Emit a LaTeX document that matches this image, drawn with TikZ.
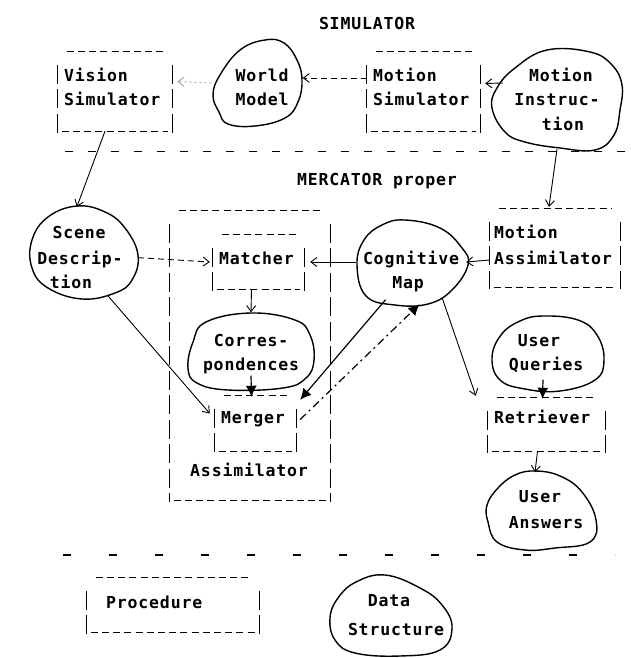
\documentclass[tikz,border=0pt]{standalone}
\usepackage{fontspec}
\newfontfamily\twfont[LetterSpace=5]{DejaVu Sans Mono}
\usetikzlibrary{arrows.meta,calc,shapes.geometric}
\newcommand\tbx[1]{%
  \draw[dashrow] ($(#1.north west)+(9,0)$) -- ($(#1.north east)+(-8,0)$);
  \draw[barrow] ($(#1.north west)+(0,13)$) -- ($(#1.south west)+(0,2)$);
  \draw[barrow] ($(#1.north east)+(0,13)$) -- ($(#1.south east)+(0,2)$);
  \draw[dashrow] ($(#1.south west)+(4,0)$) -- ($(#1.south east)+(-4,0)$);
}
\begin{document}
\begin{tikzpicture}[x=1pt,y=-1pt,
  txt/.style={font=\twfont\bfseries\fontsize{16.5}{20}\selectfont, inner sep=0pt, text height=12pt, text depth=0pt},
  blob/.style={ellipse, inner sep=0pt},
  blobline/.style={line width=1.4pt, line join=round},
  boxn/.style={rectangle, inner sep=0pt},
  dashrow/.style={line width=1.1pt, dash pattern=on 7pt off 4.2pt},
  barrow/.style={line width=1.1pt, dash pattern=on 19pt off 5.5pt},
  conn/.style={line width=0.9pt, -{Straight Barb[length=6pt,width=9pt]}},
  dconn/.style={conn, dash pattern=on 6pt off 4pt},
  faintconn/.style={conn, gray!70, dash pattern=on 2pt off 3pt},
  heavy/.style={line width=1.2pt, -{Latex[length=11pt,width=11pt]}},
  ddheavy/.style={heavy, dash pattern=on 8pt off 4pt on 2pt off 4pt},
  sepline/.style={line width=1pt}]
\useasboundingbox (0,0) rectangle (631,658);

% ---------- SIMULATOR ----------
\node[txt] (simttl) at (367,24) {SIMULATOR};

\node[boxn, minimum width=114pt, minimum height=79pt] (vis) at (115,91.5) {};
\tbx{vis}
\node[txt, anchor=west] (vis1) at (64,76) {Vision};
\node[txt, anchor=west] (vis2) at (64,100) {Simulator};

\node[blob, minimum width=91pt, minimum height=86pt] (wm) at (257,83) {};
\draw[blobline] plot[smooth cycle, tension=0.7] coordinates {(265,40) (284,43) (297,60) (302,80) (298,102) (285,118) (255,126) (228,124) (219,112) (213,95) (220,75) (240,50)};
\node[txt] (wm1) at (262,76) {World};
\node[txt] (wm2) at (262,100) {Model};

\node[boxn, minimum width=113pt, minimum height=79pt] (msim) at (423.5,91.5) {};
\tbx{msim}
\node[txt, anchor=west] (msim1) at (373,76) {Motion};
\node[txt, anchor=west] (msim2) at (373,100) {Simulator};

\node[blob, minimum width=132pt, minimum height=100pt] (mi) at (557,99) {};
\draw[blobline] plot[smooth cycle, tension=0.7] coordinates {(547,50) (590,52) (612,65) (622,85) (620,110) (614,135) (595,150) (560,148) (525,142) (505,132) (492,108) (497,88) (515,68)};
\node[txt] (mi1) at (561,76) {Motion};
\node[txt] (mi2) at (557,100) {Instruc-};
\node[txt] (mi3) at (563,125) {tion};

\draw[sepline, dash pattern=on 8pt off 15pt] (65,151) -- (625,151);

% ---------- MERCATOR proper ----------
\node[txt] (merttl) at (377,179) {MERCATOR proper};

\node[blob, minimum width=106pt, minimum height=93pt] (scene) at (85,253) {};
\draw[blobline] plot[smooth cycle, tension=0.7] coordinates {(77,206) (105,212) (125,228) (138,255) (132,280) (115,293) (82,299) (48,288) (32,268) (32,240) (48,217)};
\node[txt] (sc1) at (79,232) {Scene};
\node[txt] (sc2) at (80,258) {Descrip-};
\node[txt] (sc3) at (71,282) {tion};

\node[boxn, minimum width=160pt, minimum height=289pt] (asm) at (250,355.5) {};
\tbx{asm}
\node[txt] (asm1) at (249,470) {Assimilator};

\node[boxn, minimum width=91pt, minimum height=54pt] (mat) at (258.5,262) {};
\tbx{mat}
\node[txt, anchor=west] (mat1) at (219,258) {Matcher};

\node[blob, minimum width=112pt, minimum height=85pt] (cog) at (412,262) {};
\draw[blobline] plot[smooth cycle, tension=0.7] coordinates {(405,220) (440,228) (462,248) (468,265) (452,290) (428,304) (395,305) (366,296) (357,265) (364,240) (382,225)};
\node[txt] (cog1) at (411,258) {Cognitive};
\node[txt] (cog2) at (408,282) {Map};

\node[boxn, minimum width=130pt, minimum height=78pt] (mass) at (555,248) {};
\tbx{mass}
\node[txt, anchor=west] (mass1) at (494,232) {Motion};
\node[txt, anchor=west] (mass2) at (494,258) {Assimilator};

\node[blob, minimum width=126pt, minimum height=77pt] (corr) at (251,351) {};
\draw[blobline] plot[smooth cycle, tension=0.7] coordinates {(251,313) (295,320) (310,335) (314,360) (306,378) (283,388) (228,390) (197,383) (188,368) (193,342) (206,322)};
\node[txt] (corr1) at (251,340) {Corres-};
\node[txt] (corr2) at (251,364) {pondences};

\node[blob, minimum width=112pt, minimum height=75pt] (uq) at (548,354) {};
\draw[blobline] plot[smooth cycle, tension=0.7] coordinates {(543,316) (578,320) (597,335) (604,360) (595,380) (560,391) (525,389) (500,380) (492,358) (501,335) (520,321)};
\node[txt] (uq1) at (539,340) {User};
\node[txt] (uq2) at (546,364) {Queries};

\node[boxn, minimum width=81pt, minimum height=55pt] (mer) at (255.5,423.5) {};
\tbx{mer}
\node[txt, anchor=west] (mer1) at (221,417) {Merger};

\node[boxn, minimum width=117pt, minimum height=53pt] (ret) at (546.5,424.5) {};
\tbx{ret}
\node[txt, anchor=west] (ret1) at (494,417) {Retriever};

\node[blob, minimum width=110pt, minimum height=79pt] (ua) at (541,511) {};
\draw[blobline] plot[smooth cycle, tension=0.7] coordinates {(535,471) (560,476) (582,492) (596,520) (590,542) (555,548) (525,550) (497,542) (488,522) (487,505) (498,488) (515,475)};
\node[txt] (ua1) at (540,496) {User};
\node[txt] (ua2) at (546,522) {Answers};

\draw[sepline, line width=1.2pt, dash pattern=on 8pt off 38pt] (63,555) -- (615,555);

% ---------- legend ----------
\node[boxn, minimum width=172pt, minimum height=54pt] (proc) at (173,605) {};
\tbx{proc}
\node[txt, anchor=west] (proc1) at (106,602) {Procedure};

\node[blob, minimum width=122pt, minimum height=82pt] (ds) at (391,616) {};
\draw[blobline] plot[smooth cycle, tension=0.7] coordinates {(385,575) (420,588) (442,605) (452,628) (440,650) (400,656) (355,653) (335,640) (330,618) (338,598) (356,582)};
\node[txt] (ds1) at (389,600) {Data};
\node[txt] (ds2) at (396,629) {Structure};

% ---------- connectors ----------
\draw[faintconn] (wm.west) -- ($(vis.east)+(5,-10)$);
\draw[dconn] (msim.west |- 0,78) -- (wm.east |- 0,78);
\draw[conn] ($(mi.west)+(12,-16)$) -- ($(msim.east)+(5,-8)$);
\draw[conn] ($(vis.south)+(-10,0)$) -- (scene.100);
\draw[conn] (mi.south) -- ($(mass.north)+(-6,-2)$);
\draw[dconn] (scene.-5) -- ($(mat.west)+(-3,0)$);
\draw[conn] (cog.west) -- ($(mat.east)+(6,0)$);
\draw[conn] ($(mass.west)+(0,12)$) -- ($(cog.east)+(-2,0)$);
\draw[conn] ($(mat.south)+(-7,0)$) -- (corr.north);
\draw[heavy] ($(corr.south)+(0,-14)$) -- ($(mer.north)+(-4,1)$);
\draw[conn] (scene.-62) -- ($(mer.west)+(-5,-10)$);
\draw[heavy] (cog.-125) -- ($(mer.north east)+(4,4)$);
\draw[ddheavy] ($(mer.east)+(4,-4)$) -- (cog.-80);
\draw[conn] (cog.-50) -- ($(ret.north west)+(-12,-2)$);
\draw[heavy] ($(uq.south)+(-5,-12)$) -- ($(ret.north)+(-4,1)$);
\draw[conn] ($(ret.south)+(-9,0)$) -- ($(ua.north)+(-6,1)$);
\end{tikzpicture}
\end{document}
